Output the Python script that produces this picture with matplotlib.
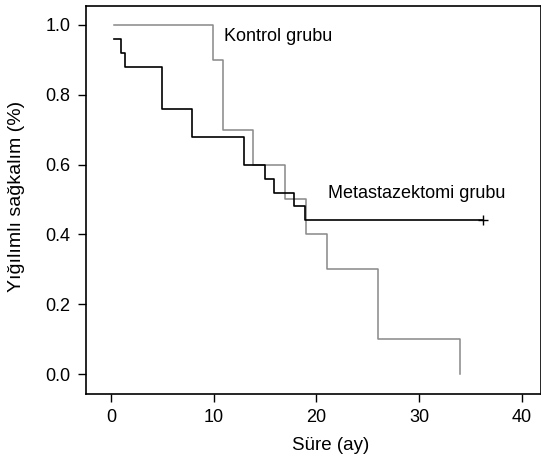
import numpy as np
import matplotlib.pyplot as plt

plt.rcParams['font.family'] = ['Liberation Sans', 'DejaVu Sans']

# Kontrol grubu (gri)
kontrol_t = [0.3, 9.9, 10.9, 13.8, 16.9, 19.0, 21.0, 26.0, 34.0]
kontrol_s = [1.0, 0.9, 0.7, 0.6, 0.5, 0.4, 0.3, 0.1, 0.0]

# Metastazektomi grubu (siyah)
meta_t = [0.3, 0.9, 1.3, 4.9, 7.85, 12.9, 15.0, 15.85, 17.8, 18.9, 36.2]
meta_s = [0.96, 0.92, 0.88, 0.76, 0.68, 0.60, 0.56, 0.52, 0.48, 0.44, 0.44]
meta_censor_t = [36.2]
meta_censor_s = [0.44]

fig = plt.figure(figsize=(5.41, 4.63), dpi=100)
ax = fig.add_axes([0.1584, 0.149, 0.8416, 0.838])

ax.step(kontrol_t, kontrol_s, where='post', color='#888888', lw=1.1)
ax.step(meta_t, meta_s, where='post', color='black', lw=1.2)
ax.plot(meta_censor_t, meta_censor_s, marker='+', color='black', ms=7, mew=1.0, ls='none')

ax.text(11.0, 0.955, "Kontrol grubu", fontsize=13, va='baseline', ha='left')
ax.text(21.1, 0.503, "Metastazektomi grubu", fontsize=13, va='baseline', ha='left')

ax.set_xlim(-2.5, 41.9)
ax.set_ylim(-0.057, 1.054)
ax.set_xticks([0, 10, 20, 30, 40])
ax.set_yticks([0.0, 0.2, 0.4, 0.6, 0.8, 1.0])
ax.set_yticklabels(["0.0", "0.2", "0.4", "0.6", "0.8", "1.0"])
ax.tick_params(direction='out', length=6, width=1, labelsize=13, pad=5)
for s in ax.spines.values():
    s.set_linewidth(1.2)

# eksen başlıkları (orijinal görüntü sağdan kırpılmış)
fig.text(331 / 541, 1 - 445 / 463, "Süre (ay)", fontsize=13.5, ha='center', va='center')
fig.text(17 / 541, 1 - 196 / 463, "Yığılımlı sağkalım (%)", fontsize=14,
         ha='center', va='center', rotation=90)

plt.savefig("out.png", dpi=100)
